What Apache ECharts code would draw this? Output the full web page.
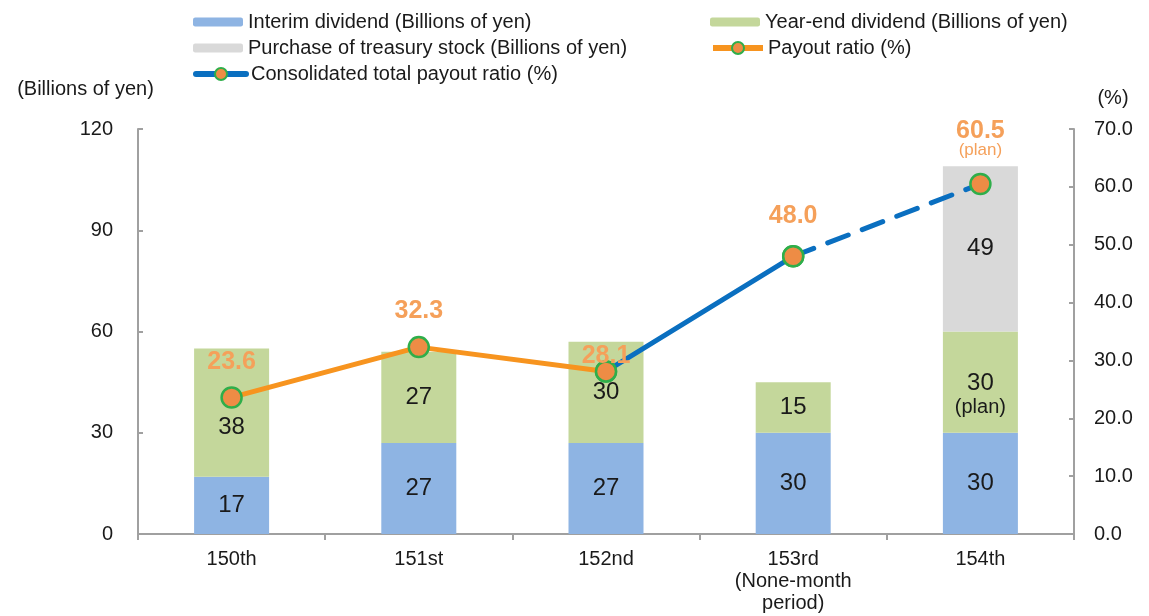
<!DOCTYPE html>
<html><head><meta charset="utf-8">
<script src="https://cdn.jsdelivr.net/npm/echarts@6/dist/echarts.min.js"></script>
<style>html,body{margin:0;padding:0;background:#fff}#c{width:1149px;height:616px}</style>
</head><body><div id="c"></div>
<script>
const categories = ['150th', '151st', '152nd', '153rd\n(None-month\nperiod)', '154th'];
const interim = [17, 27, 27, 30, 30];
const yearEnd = [38, 27, 30, 15, 30];
const treasury = [0, 0, 0, 0, 49];
const payout = [23.6, 32.3, 28.1, null, null];
const consolSolid = [null, null, 28.1, 48.0, null];
const consolPlan = [null, null, null, 48.0, 60.5];
const leftTicks = [0, 30, 60, 90, 120];
const rightTicks = [0, 10, 20, 30, 40, 50, 60, 70];

const FONT = 'Liberation Sans, Arial, sans-serif';
const TXT = '#1a1a1a';
const ORANGE_TXT = '#F5A05A';
const markerStyle = { color: '#EE8C45', borderColor: '#2FAE4A', borderWidth: 2.5 };
const barLabel = { show: true, position: 'inside', color: TXT, fontSize: 24, fontFamily: FONT };
const lineLabelBase = { show: true, position: 'top', color: ORANGE_TXT, fontSize: 25, fontWeight: 'bold', fontFamily: FONT };

function lineData(arr, labelCfg) {
  return arr.map((v, i) => {
    if (v === null) return null;
    const item = { value: v };
    if (labelCfg[i]) item.label = labelCfg[i];
    return item;
  });
}

const legendText = { fontSize: 20, color: TXT, lineHeight: 20, fontFamily: FONT };
const barLegend = (left, top, data) => ({ orient: 'vertical', left, top, itemWidth: 50, itemHeight: 9, itemGap: 6, textStyle: legendText, data });
const lineLegend = (left, top, data) => ({ orient: 'vertical', left, top, itemWidth: 50, itemHeight: 15, itemGap: 6, textStyle: legendText,
  lineStyle: { width: 6 }, itemStyle: { borderWidth: 2 }, data });

const chart = echarts.init(document.getElementById('c'), null, { renderer: 'canvas' });
chart.setOption({
  animation: false,
  textStyle: { fontFamily: FONT },
  grid: { left: 138, right: 75, top: 129, bottom: 82 },
  legend: [
    barLegend(188, 7, ['Interim dividend (Billions of yen)', 'Purchase of treasury stock (Billions of yen)']),
    lineLegend(188, 59, ['Consolidated total payout ratio (%)']),
    barLegend(705, 7, ['Year-end dividend (Billions of yen)']),
    lineLegend(705, 33, ['Payout ratio (%)'])
  ],
  xAxis: {
    type: 'category', data: categories,
    axisLine: { lineStyle: { color: '#A0A0A0', width: 2 } },
    axisTick: { show: true, inside: false, length: 6, lineStyle: { color: '#A0A0A0', width: 2 } },
    axisLabel: { color: TXT, fontSize: 20, lineHeight: 22, margin: 14, fontFamily: FONT }
  },
  yAxis: [
    { type: 'value', min: 0, max: 120, interval: 30, position: 'left',
      name: '(Billions of yen)', nameLocation: 'end', nameGap: 30,
      nameTextStyle: { color: TXT, fontSize: 20, align: 'center', padding: [0, 105, 0, 0], fontFamily: FONT },
      axisLine: { show: true, lineStyle: { color: '#A0A0A0', width: 2 } },
      axisTick: { show: true, inside: true, length: 5, lineStyle: { color: '#A0A0A0', width: 2 } },
      axisLabel: { color: TXT, fontSize: 20, margin: 25, fontFamily: FONT,
        formatter: v => leftTicks.includes(v) ? String(v) : '' },
      splitLine: { show: false } },
    { type: 'value', min: 0, max: 70, interval: 10, position: 'right',
      name: '(%)', nameLocation: 'end', nameGap: 21,
      nameTextStyle: { color: TXT, fontSize: 20, align: 'center', padding: [0, 0, 0, 78], fontFamily: FONT },
      axisLine: { show: true, lineStyle: { color: '#A0A0A0', width: 2 } },
      axisTick: { show: true, inside: true, length: 5, lineStyle: { color: '#A0A0A0', width: 2 } },
      axisLabel: { color: TXT, fontSize: 20, margin: 20, fontFamily: FONT,
        formatter: v => rightTicks.includes(v) ? v.toFixed(1) : '' },
      splitLine: { show: false } }
  ],
  series: [
    { name: 'Interim dividend (Billions of yen)', type: 'bar', stack: 'div', barWidth: 75,
      itemStyle: { color: '#8EB4E3' }, label: barLabel, data: interim, z: 2 },
    { name: 'Year-end dividend (Billions of yen)', type: 'bar', stack: 'div', barWidth: 75,
      itemStyle: { color: '#C4D79B' },
      label: Object.assign({}, barLabel, {
        formatter: p => p.dataIndex === 4 ? p.value + '\n{p|(plan)}' : String(p.value),
        lineHeight: 24,
        rich: { p: { fontSize: 20, color: TXT, lineHeight: 24, fontFamily: FONT } } }),
      data: yearEnd.map((v, i) => i === 0 ? { value: v, label: { offset: [0, 15] } } : (i === 4 ? { value: v, label: { offset: [0, 13] } } : v)), z: 2 },
    { name: 'Purchase of treasury stock (Billions of yen)', type: 'bar', stack: 'div', barWidth: 75,
      itemStyle: { color: '#D9D9D9' },
      label: Object.assign({}, barLabel, { formatter: p => p.value ? String(p.value) : '' }),
      data: treasury, z: 2 },
    { name: 'Consolidated total payout ratio (%)', type: 'line', yAxisIndex: 1,
      data: lineData(consolSolid, { 2: { show: false }, 3: Object.assign({}, lineLabelBase, { distance: 16, formatter: p => p.value.toFixed(1) }) }),
      lineStyle: { color: '#0A6FC0', width: 5, cap: 'round' },
      itemStyle: markerStyle, symbol: 'circle', symbolSize: 20, showSymbol: true, connectNulls: false, z: 5 },
    { name: 'planDashed', type: 'line', yAxisIndex: 1,
      data: lineData(consolPlan, { 3: { show: false },
        4: Object.assign({}, lineLabelBase, { distance: 13, lineHeight: 22,
          formatter: p => p.value.toFixed(1) + '\n{p|(plan)}',
          rich: { p: { fontSize: 17, fontWeight: 'normal', color: ORANGE_TXT, lineHeight: 18, fontFamily: FONT } } }) }),
      lineStyle: { color: '#0A6FC0', width: 5, type: [22, 15], cap: 'round' },
      itemStyle: markerStyle, symbol: 'circle', symbolSize: 20, showSymbol: true, z: 5 },
    { name: 'Payout ratio (%)', type: 'line', yAxisIndex: 1,
      data: lineData(payout, {
        0: Object.assign({}, lineLabelBase, { distance: 12, formatter: p => p.value.toFixed(1) }),
        1: Object.assign({}, lineLabelBase, { distance: 12, formatter: p => p.value.toFixed(1) }),
        2: Object.assign({}, lineLabelBase, { distance: -8, formatter: p => p.value.toFixed(1) }) }),
      lineStyle: { color: '#F7941F', width: 5 },
      itemStyle: markerStyle, symbol: 'circle', symbolSize: 20, showSymbol: true, z: 6 }
  ]
});
</script></body></html>
